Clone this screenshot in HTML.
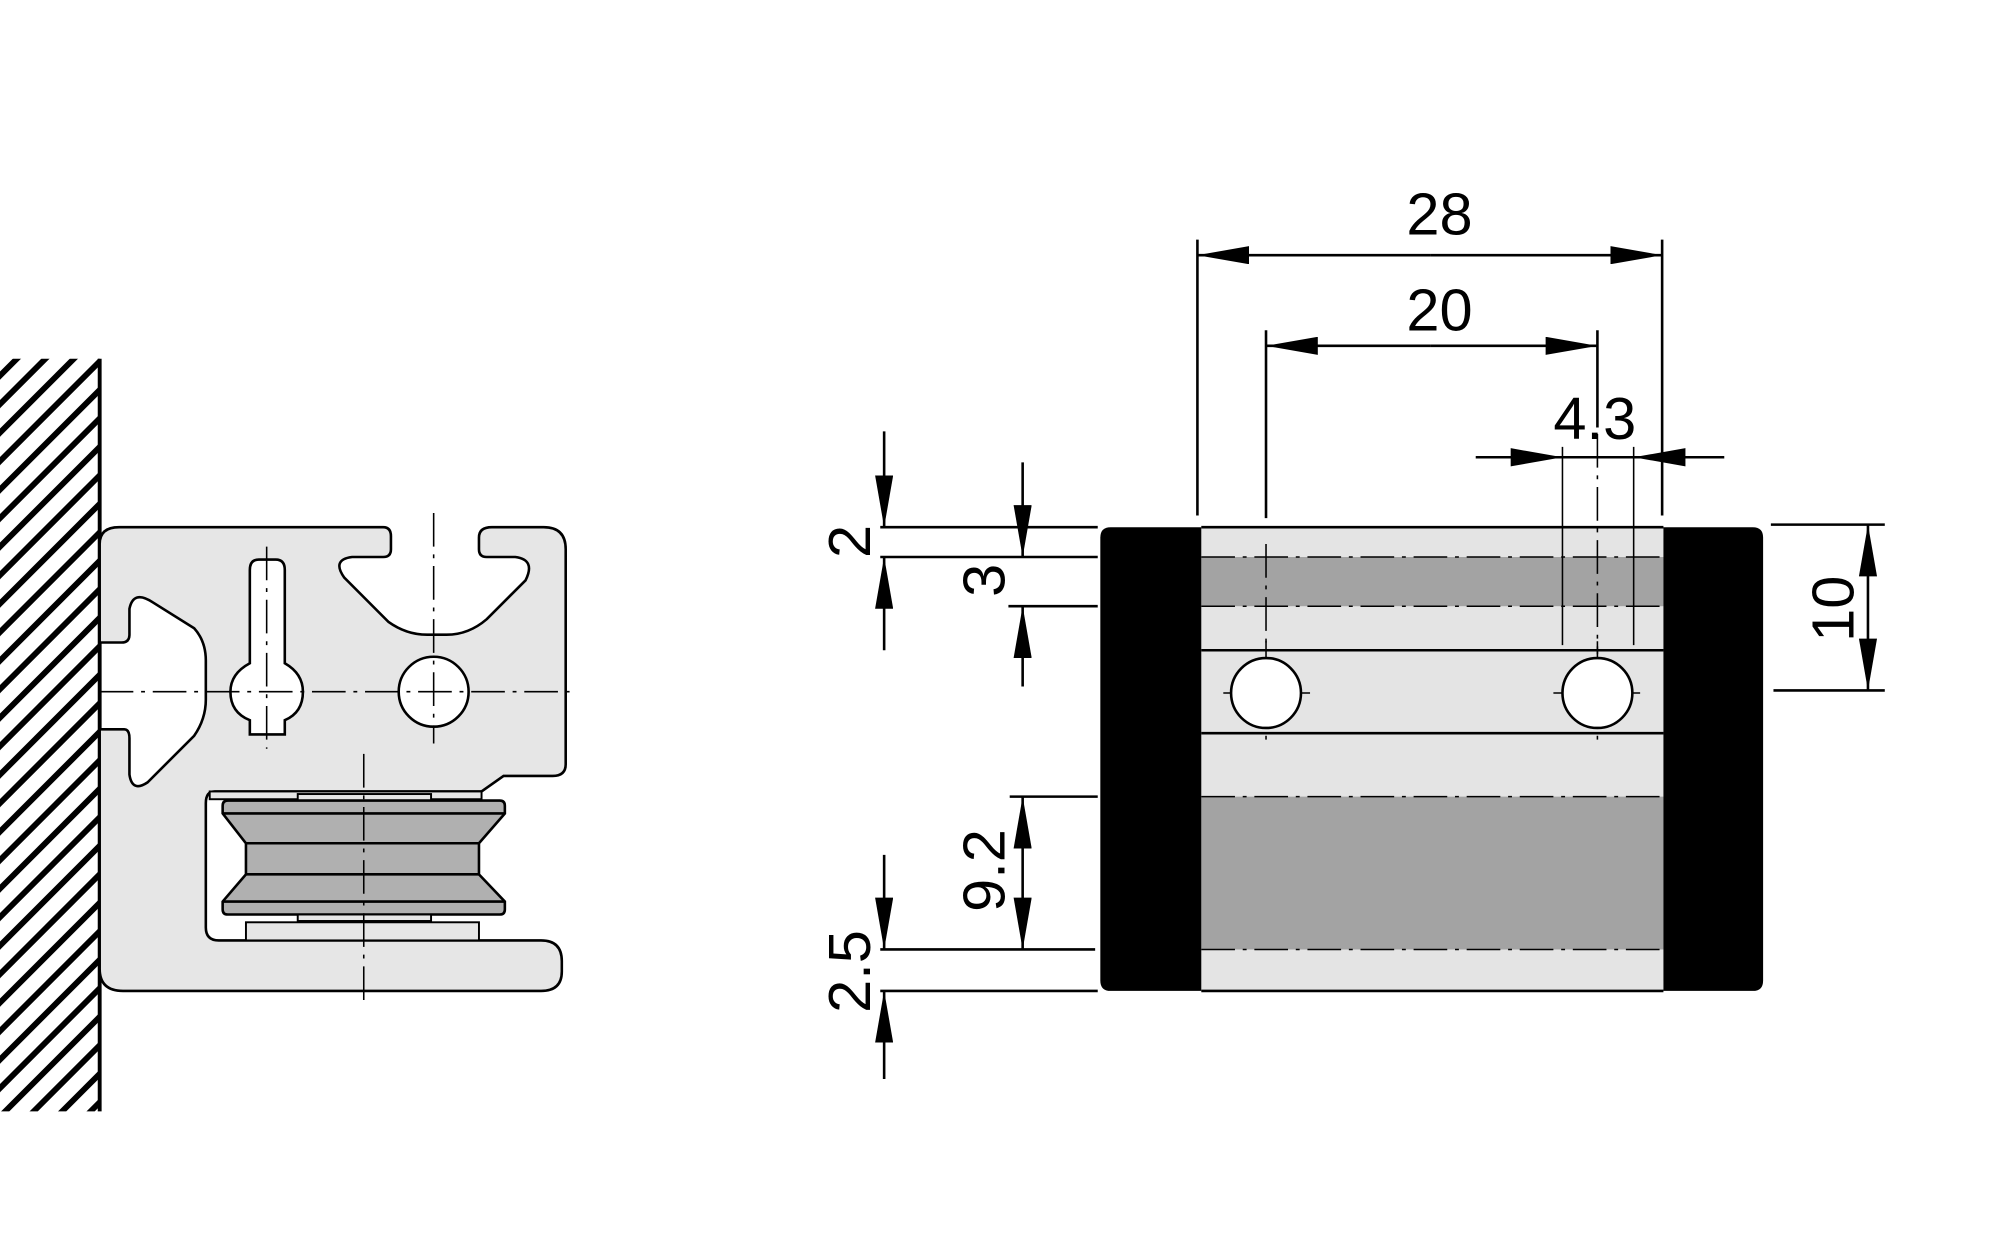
<!DOCTYPE html>
<html><head><meta charset="utf-8"><style>
html,body{margin:0;padding:0;background:#fff;width:2000px;height:1250px;overflow:hidden;}
svg{display:block;}
text{font-family:"Liberation Sans Narrow","Liberation Sans",sans-serif;font-size:46px;fill:#000;}
</style></head><body>
<svg width="2000" height="1250" viewBox="0 0 1545 965" preserveAspectRatio="none" xmlns="http://www.w3.org/2000/svg">
<defs>
<clipPath id="wc"><rect x="0" y="277" width="77" height="581"/></clipPath>
<marker id="a" viewBox="0 0 40 14" refX="40" refY="7" markerWidth="40" markerHeight="14" markerUnits="userSpaceOnUse" orient="auto"><path d="M0,0 L40,7 L0,14 Z" fill="#000"/></marker>
</defs>
<g clip-path="url(#wc)" stroke="#000" stroke-width="4.5">
<g id="h">
<line x1="-10" y1="300" x2="90" y2="200"/><line x1="-10" y1="322" x2="90" y2="222"/><line x1="-10" y1="344" x2="90" y2="244"/><line x1="-10" y1="366" x2="90" y2="266"/><line x1="-10" y1="388" x2="90" y2="288"/><line x1="-10" y1="410" x2="90" y2="310"/><line x1="-10" y1="432" x2="90" y2="332"/><line x1="-10" y1="454" x2="90" y2="354"/><line x1="-10" y1="476" x2="90" y2="376"/><line x1="-10" y1="498" x2="90" y2="398"/><line x1="-10" y1="520" x2="90" y2="420"/><line x1="-10" y1="542" x2="90" y2="442"/><line x1="-10" y1="564" x2="90" y2="464"/><line x1="-10" y1="586" x2="90" y2="486"/>
</g>
<use href="#h" y="308"/><use href="#h" y="616"/>
</g>
<line x1="77" y1="277" x2="77" y2="858" stroke="#000" stroke-width="3"/>
<path d="M77,420 Q77,407 92,407 L296,407 Q302,407 302,414 L302,424 Q302,430 296,430 L272,430 Q256,432 266,446 L300,480 Q314,490 330,490 L345,490 Q362,490 376,478 L406,448 Q414,432 398,430 L376,430 Q370,430 370,424 L370,415 Q370,407 380,407 L420,407 Q437,407 437,424 L437,590 Q437,599 427,599 L389,599 L372,611 L166,611 Q159,611 159,620 L159,716 Q159,726 169,726 L418,726 Q434,726 434,742 L434,750 Q434,765 418,765 L95,765 Q77,765 77,748 L77,563 L96,563 Q100,563 100,570 L100,598 Q102,612 114,604 L150,568 Q159,555 159,540 L159,510 Q159,495 150,485 L118,465 Q103,455 100,470 L100,490 Q100,496 94,496 L77,496 Z" fill="#e6e6e6" stroke="#000" stroke-width="2"/>
<path d="M193,440 Q193,432 200,432 L213,432 Q220,432 220,440 L220,512 Q234,520 234,534 Q234,550 220,556 L220,567 L193,567 L193,556 Q178,550 178,534 Q178,520 193,512 Z" fill="#fff" stroke="#000" stroke-width="2"/>
<circle cx="335" cy="534" r="27" fill="#fff" stroke="#000" stroke-width="2"/>
<rect x="162" y="611" width="210" height="6" fill="#e6e6e6" stroke="#000" stroke-width="1.5"/>
<rect x="230" y="613" width="103" height="5" fill="#e6e6e6" stroke="#000" stroke-width="1.5"/>
<path d="M176,618 L386,618 Q390,618 390,622 L390,628 L370,651 L370,675 L390,696 L390,702 Q390,706 386,706 L176,706 Q172,706 172,702 L172,696 L190,675 L190,651 L172,628 L172,622 Q172,618 176,618 Z" fill="#b0b0b0" stroke="#000" stroke-width="2"/>
<g stroke="#000" stroke-width="2"><line x1="172" y1="628" x2="390" y2="628"/><line x1="190" y1="651" x2="370" y2="651"/><line x1="190" y1="675" x2="370" y2="675"/><line x1="172" y1="696" x2="390" y2="696"/></g>
<rect x="230" y="706" width="103" height="5" fill="#e6e6e6" stroke="#000" stroke-width="1.5"/>
<rect x="190" y="712" width="180" height="14" fill="#e6e6e6" stroke="#000" stroke-width="1.5"/>
<g stroke="#000" stroke-width="1.2" stroke-dasharray="26,6,3,6" fill="none">
<line x1="77" y1="534" x2="442" y2="534"/>
<line x1="335" y1="396" x2="335" y2="574"/>
<line x1="206" y1="422" x2="206" y2="578"/>
<line x1="281" y1="582" x2="281" y2="773"/>
</g>
<rect x="928" y="407" width="357" height="358" fill="#e4e4e4"/>
<rect x="928" y="430" width="357" height="38" fill="#a3a3a3"/>
<rect x="928" y="615" width="357" height="118" fill="#a3a3a3"/>
<path d="M858,407 L928,407 L928,765 L858,765 Q850,765 850,757 L850,415 Q850,407 858,407 Z" fill="#000"/>
<path d="M1285,407 L1354,407 Q1362,407 1362,415 L1362,757 Q1362,765 1354,765 L1285,765 Z" fill="#000"/>
<g stroke="#000" stroke-width="2"><line x1="928" y1="407" x2="1285" y2="407"/><line x1="928" y1="765" x2="1285" y2="765"/><line x1="928" y1="502" x2="1285" y2="502"/><line x1="928" y1="566" x2="1285" y2="566"/></g>
<g stroke="#000" stroke-width="1.2" stroke-dasharray="26,6,3,6" fill="none">
<line x1="928" y1="430" x2="1285" y2="430"/><line x1="928" y1="468" x2="1285" y2="468"/><line x1="928" y1="615" x2="1285" y2="615"/><line x1="928" y1="733" x2="1285" y2="733"/>
<line x1="978" y1="495" x2="978" y2="575"/><line x1="1234" y1="495" x2="1234" y2="575"/>
<line x1="945" y1="535" x2="1012" y2="535"/><line x1="1200" y1="535" x2="1268" y2="535"/>
</g>
<circle cx="978" cy="535" r="27" fill="#fff" stroke="#000" stroke-width="2"/>
<circle cx="1234" cy="535" r="27" fill="#fff" stroke="#000" stroke-width="2"/>
<g stroke="#000" stroke-width="1.2" stroke-dasharray="26,6,3,6"><line x1="978" y1="420" x2="978" y2="500"/><line x1="1234" y1="335" x2="1234" y2="505"/></g>
<g stroke="#000" stroke-width="2" fill="none">
<line x1="925" y1="185" x2="925" y2="398"/><line x1="1284" y1="185" x2="1284" y2="398"/>
<line x1="1105" y1="197" x2="925" y2="197" marker-end="url(#a)"/><line x1="1105" y1="197" x2="1284" y2="197" marker-end="url(#a)"/>
<line x1="978" y1="255" x2="978" y2="400"/><line x1="1234" y1="255" x2="1234" y2="330"/>
<line x1="1105" y1="267" x2="978" y2="267" marker-end="url(#a)"/><line x1="1105" y1="267" x2="1234" y2="267" marker-end="url(#a)"/>
<line x1="1207" y1="345" x2="1207" y2="498" stroke-width="1.2"/><line x1="1262" y1="345" x2="1262" y2="498" stroke-width="1.2"/>
<line x1="1284" y1="340" x2="1284" y2="365" stroke-width="1.2"/>
<line x1="1207" y1="353" x2="1262" y2="353"/>
<line x1="1140" y1="353" x2="1207" y2="353" marker-end="url(#a)"/><line x1="1332" y1="353" x2="1262" y2="353" marker-end="url(#a)"/>
<line x1="1368" y1="405" x2="1456" y2="405"/><line x1="1370" y1="533" x2="1456" y2="533"/>
<line x1="1443" y1="469" x2="1443" y2="405" marker-end="url(#a)"/><line x1="1443" y1="469" x2="1443" y2="533" marker-end="url(#a)"/>
<line x1="680" y1="407" x2="848" y2="407"/><line x1="680" y1="430" x2="848" y2="430"/>
<line x1="683" y1="333" x2="683" y2="407" marker-end="url(#a)"/><line x1="683" y1="502" x2="683" y2="430" marker-end="url(#a)"/>
<line x1="779" y1="468" x2="848" y2="468"/>
<line x1="790" y1="357" x2="790" y2="430" marker-end="url(#a)"/><line x1="790" y1="530" x2="790" y2="468" marker-end="url(#a)"/>
<line x1="780" y1="615" x2="848" y2="615"/><line x1="680" y1="733" x2="846" y2="733"/><line x1="680" y1="765" x2="848" y2="765"/>
<line x1="790" y1="674" x2="790" y2="615" marker-end="url(#a)"/><line x1="790" y1="674" x2="790" y2="733" marker-end="url(#a)"/>
<line x1="683" y1="660" x2="683" y2="733" marker-end="url(#a)"/><line x1="683" y1="833" x2="683" y2="765" marker-end="url(#a)"/>
</g>
<text x="1112" y="181" text-anchor="middle">28</text>
<text x="1112" y="255" text-anchor="middle">20</text>
<text x="1232" y="339" text-anchor="middle">4.3</text>
<text transform="translate(1432,470) rotate(-90)" text-anchor="middle">10</text>
<text transform="translate(672,418) rotate(-90)" text-anchor="middle">2</text>
<text transform="translate(776,448) rotate(-90)" text-anchor="middle">3</text>
<text transform="translate(776,672) rotate(-90)" text-anchor="middle">9.2</text>
<text transform="translate(672,750) rotate(-90)" text-anchor="middle">2.5</text>
</svg>
</body></html>
